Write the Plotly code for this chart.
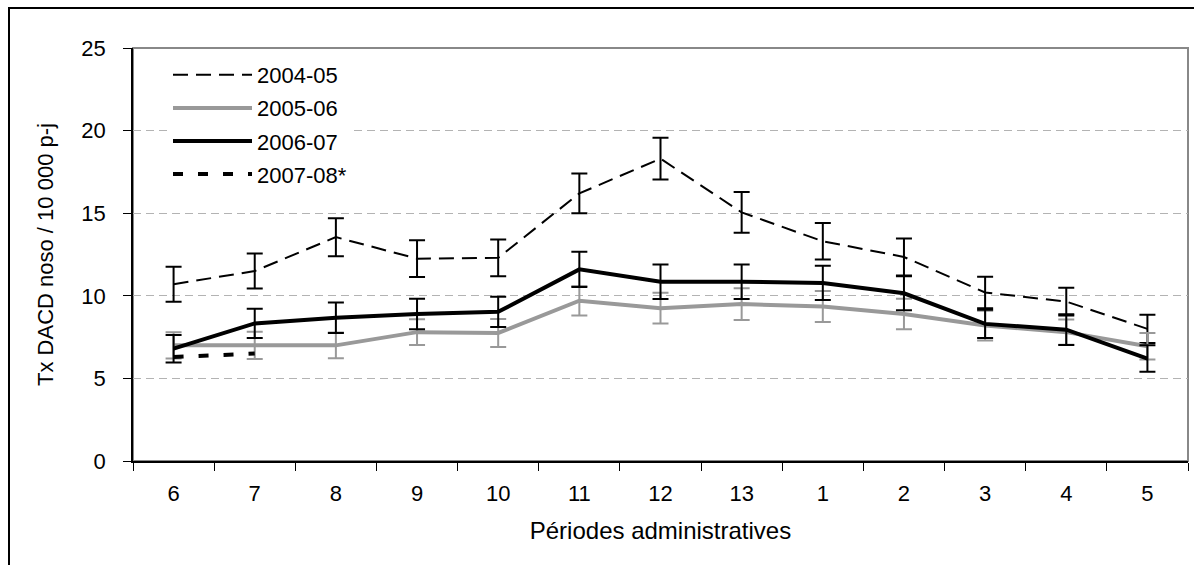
import plotly.graph_objects as go

periods = ["6", "7", "8", "9", "10", "11", "12", "13", "1", "2", "3", "4", "5"]

s0405 = [10.7, 11.5, 13.55, 12.25, 12.3, 16.2, 18.3, 15.05, 13.3, 12.35, 10.2, 9.65, 8.0]
e0405 = [1.06, 1.06, 1.15, 1.11, 1.11, 1.21, 1.26, 1.23, 1.11, 1.12, 0.95, 0.84, 0.86]

s0506 = [7.0, 7.0, 7.0, 7.8, 7.75, 9.7, 9.25, 9.5, 9.35, 8.9, 8.2, 7.8, 6.95]
e0506 = [0.8, 0.82, 0.78, 0.78, 0.85, 0.9, 0.93, 0.96, 0.94, 0.92, 0.9, 0.76, 0.8]

s0607 = [6.8, 8.33, 8.67, 8.9, 9.03, 11.6, 10.85, 10.85, 10.78, 10.15, 8.3, 7.95, 6.2]
e0607 = [0.83, 0.88, 0.92, 0.92, 0.92, 1.06, 1.04, 1.04, 1.04, 1.03, 0.86, 0.93, 0.8]

s0708 = [6.3, 6.5, None, None, None, None, None, None, None, None, None, None, None]

names = ["2004-05", "2005-06", "2006-07", "2007-08*"]
y_ticks = [0, 5, 10, 15, 20, 25]

FONT = "Liberation Sans, Arial, sans-serif"
GRAY = "#999999"

fig = go.Figure()

fig.add_trace(go.Scatter(
    x=periods, y=s0405, name=names[0], mode="lines", legendgroup="a",
    line=dict(color="black", width=2, dash="15px,8px"),
    error_y=dict(type="data", array=e0405, visible=True, color="black", thickness=2, width=8),
))
fig.add_trace(go.Scatter(
    x=periods, y=s0506, name=names[1], mode="lines", legendgroup="b",
    line=dict(color=GRAY, width=4),
    error_y=dict(type="data", array=e0506, visible=True, color=GRAY, thickness=2, width=8),
))
fig.add_trace(go.Scatter(
    x=periods, y=s0607, name=names[2], mode="lines", legendgroup="c",
    line=dict(color="black", width=4),
    error_y=dict(type="data", array=e0607, visible=True, color="black", thickness=2, width=8),
))
fig.add_trace(go.Scatter(
    x=periods, y=s0708, name=names[3], mode="lines", legendgroup="d",
    line=dict(color="black", width=4, dash="10px,15px"),
    connectgaps=False,
))

L, R, T, B = 133, 6, 48, 104
W, H = 1194, 565
pw = W - L - R
ph = H - T - B

def px(xp):
    return (xp - L) / pw

def py(yp):
    return (H - B - yp) / ph

fig.update_layout(
    width=W, height=H,
    margin=dict(l=L, r=R, t=T, b=B, autoexpand=False),
    paper_bgcolor="white", plot_bgcolor="white",
    font=dict(family=FONT, size=22, color="black"),
    showlegend=True,
    legend=dict(
        x=px(168), y=py(54), xanchor="left", yanchor="top",
        bgcolor="white", borderwidth=0, itemwidth=79,
        font=dict(family=FONT, size=22, color="black"),
        traceorder="grouped", tracegroupgap=1.5,
    ),
    xaxis=dict(
        type="category", range=[-0.5, 12.5],
        showline=True, linecolor="black", linewidth=1.5,
        ticks="outside", ticklen=8, tickcolor="black", tickwidth=1,
        tickson="boundaries", showgrid=False, zeroline=False,
        tickfont=dict(family=FONT, size=22, color="black"),
        ticklabelstandoff=12,
        title=dict(text="Périodes administratives", standoff=17,
                   font=dict(family=FONT, size=24, color="black")),
        automargin=False,
    ),
    yaxis=dict(
        range=[0, 25], tickvals=y_ticks,
        showline=True, linecolor="black", linewidth=1.5,
        ticks="outside", ticklen=8, tickcolor="black", tickwidth=1,
        showgrid=True, gridcolor="#b3b3b3", gridwidth=1, griddash="8px,5px",
        zeroline=False,
        tickfont=dict(family=FONT, size=22, color="black"),
        ticklabelstandoff=13,
        title=dict(text="Tx DACD noso / 10 000 p-j", standoff=22,
                   font=dict(family=FONT, size=22, color="black")),
        automargin=False,
    ),
    shapes=[
        dict(type="rect", xref="paper", yref="paper", x0=0, x1=1, y0=0, y1=1,
             line=dict(color="#888888", width=2), layer="below"),
        dict(type="rect", xref="paper", yref="paper",
             x0=px(9), x1=px(1205), y0=py(580), y1=py(8),
             line=dict(color="black", width=2), fillcolor="rgba(0,0,0,0)", layer="above"),
    ],
)

fig.write_html("out.html")
